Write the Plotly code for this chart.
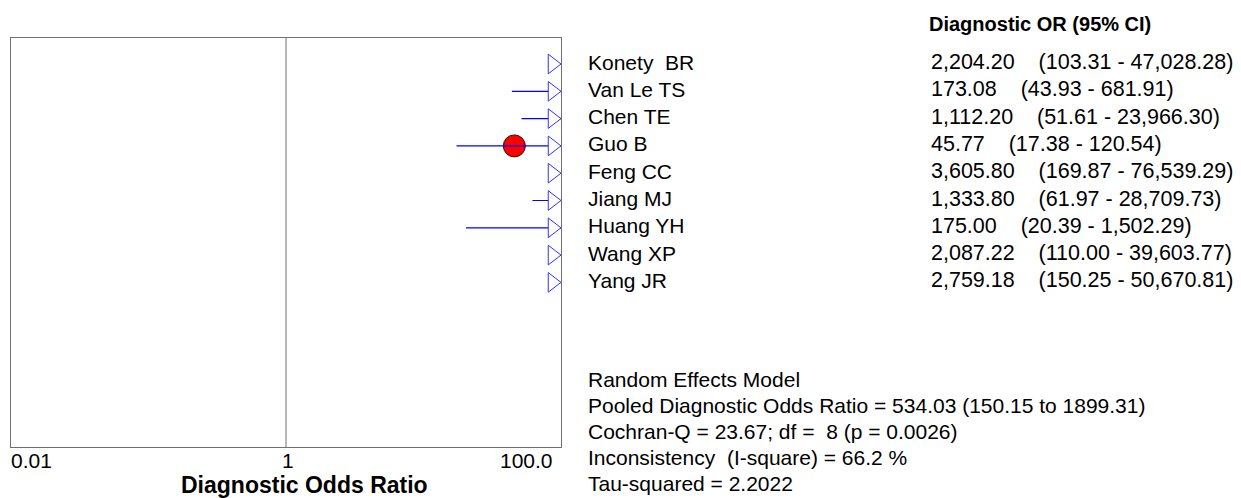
import math
import plotly.graph_objects as go

W, H = 1241, 498

# ---- data ----
studies = ["Konety\u00a0\u00a0BR", "Van Le TS", "Chen TE", "Guo B", "Feng CC",
           "Jiang MJ", "Huang YH", "Wang XP", "Yang JR"]
dor = [2204.20, 173.08, 1112.20, 45.77, 3605.80, 1333.80, 175.00, 2087.22, 2759.18]
ci_low = [103.31, 43.93, 51.61, 17.38, 169.87, 61.97, 20.39, 110.00, 150.25]
ci_high = [47028.28, 681.91, 23966.30, 120.54, 76539.29, 28709.73, 1502.29, 39603.77, 50670.81]
x_ticks = [0.01, 1, 100]
x_tick_labels = ["0.01", "1", "100.0"]
summary_lines = [
    "Random Effects Model",
    "Pooled Diagnostic Odds Ratio = 534.03 (150.15 to 1899.31)",
    "Cochran-Q = 23.67; df =\u00a0\u00a08 (p = 0.0026)",
    "Inconsistency\u00a0\u00a0(I-square) = 66.2 %",
    "Tau-squared = 2.2022",
]

# ---- layout geometry (pixels) ----
X0, X1 = 11, 561
Y0, Y1 = 37.5, 447
ROW0, ROWSTEP = 64, 27.3
XMIN, XMAX = 0.01, 100
LMIN, LMAX = math.log10(XMIN), math.log10(XMAX)
px_per_dec = (X1 - X0) / (LMAX - LMIN)

FONT = "Arial, Liberation Sans, sans-serif"
TRI = 17

n = len(studies)
rows = list(range(n))
yr_top = (Y0 - ROW0) / ROWSTEP
yr_bot = (Y1 - ROW0) / ROWSTEP

def fmt(v):
    return f"{v:,.2f}"

fig = go.Figure()

# point estimates within the axis range
in_x = [d for d in dor if XMIN <= d <= XMAX]
in_y = [r for r, d in zip(rows, dor) if XMIN <= d <= XMAX]
fig.add_trace(go.Scatter(
    x=in_x, y=in_y, mode="markers",
    marker=dict(symbol="circle", size=22, color="#ff0000",
                line=dict(color="#3a1010", width=1)),
    hoverinfo="skip", showlegend=False))

# CI lines (clipped to axis range)
lx, ly = [], []
for r, lo, hi in zip(rows, ci_low, ci_high):
    lo_c, hi_c = max(lo, XMIN), min(hi, XMAX)
    if lo_c < hi_c:
        lx += [lo_c, hi_c, None]
        ly += [r, r, None]
fig.add_trace(go.Scatter(
    x=lx, y=ly, mode="lines", line=dict(color="#0000ff", width=1.2),
    hoverinfo="skip", showlegend=False))

# arrows for CIs extending past the axis maximum
tri_pos = 10 ** (LMAX - (TRI / 2) / px_per_dec)
ax_ = [tri_pos for hi in ci_high if hi > XMAX]
ay_ = [r for r, hi in zip(rows, ci_high) if hi > XMAX]
fig.add_trace(go.Scatter(
    x=ax_, y=ay_, mode="markers",
    marker=dict(symbol="triangle-right", size=TRI, color="white",
                line=dict(color="#3030ff", width=1)),
    hoverinfo="skip", showlegend=False))

# reference line at 1
fig.add_shape(type="line", xref="x", yref="y domain", x0=1, x1=1, y0=0, y1=1,
              line=dict(color="#707070", width=1))

ann = []
# study names and values
for r, name, d, lo, hi in zip(rows, studies, dor, ci_low, ci_high):
    ann.append(dict(x=586 / W, xref="paper", y=r, yref="y", text=name,
                    xanchor="left", yanchor="middle", yshift=2, showarrow=False,
                    font=dict(family=FONT, size=21, color="black")))
    ann.append(dict(x=929 / W, xref="paper", y=r, yref="y",
                    text=f"{fmt(d)}\u00a0\u00a0\u00a0\u00a0({fmt(lo)} - {fmt(hi)})",
                    xanchor="left", yanchor="middle", yshift=2, showarrow=False,
                    font=dict(family=FONT, size=21.5, color="black")))

ann.append(dict(x=927 / W, xref="paper", y=1 - 24 / H, yref="paper",
                text="<b>Diagnostic OR (95% CI)</b>", xanchor="left", yanchor="middle",
                showarrow=False, font=dict(family=FONT, size=20, color="black")))

for i, t in enumerate(summary_lines):
    ann.append(dict(x=586 / W, xref="paper", y=1 - (379.5 + 26.1 * i) / H, yref="paper",
                    text=t, xanchor="left", yanchor="middle", showarrow=False,
                    font=dict(family=FONT, size=21, color="black")))

# tick labels
anchors = ["left", "center", "right"]
shifts = [-2, 2, -6]
for v, lab, a, s in zip(x_ticks, x_tick_labels, anchors, shifts):
    ann.append(dict(x=math.log10(v), xref="x", y=1 - 460.5 / H, yref="paper",
                    text=lab, xanchor=a, yanchor="middle", xshift=s, showarrow=False,
                    font=dict(family=FONT, size=21, color="black")))

ann.append(dict(x=304 / W, xref="paper", y=1 - 485 / H, yref="paper",
                text="<b>Diagnostic Odds Ratio</b>", xanchor="center", yanchor="middle",
                showarrow=False, font=dict(family=FONT, size=23, color="black")))

fig.update_layout(
    width=W, height=H,
    margin=dict(l=0, r=0, t=0, b=0),
    paper_bgcolor="white", plot_bgcolor="white",
    annotations=ann,
    xaxis=dict(type="log", range=[LMIN, LMAX], domain=[X0 / W, X1 / W],
               showgrid=False, zeroline=False, showticklabels=False, ticks="",
               showline=True, mirror=True, linecolor="#707070", linewidth=1),
    yaxis=dict(range=[yr_bot, yr_top], domain=[1 - Y1 / H, 1 - Y0 / H],
               showgrid=False, zeroline=False, showticklabels=False, ticks="",
               showline=True, mirror=True, linecolor="#707070", linewidth=1),
)

fig.write_html("out.html")
